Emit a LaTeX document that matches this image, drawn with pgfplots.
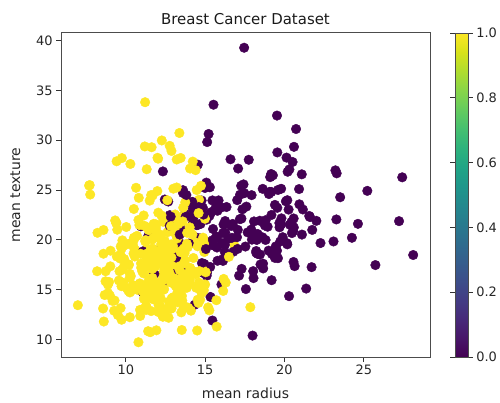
\documentclass[border=0pt]{standalone}
\usepackage{fontspec}
\setmainfont{DejaVu Sans}
\usepackage{pgfplots}
\usepackage{pgfplotstable}
\pgfplotsset{compat=1.18}
\pgfplotsset{/pgf/number format/assume math mode=true}

% mean radius, mean texture, target (0 = malignant, 1 = benign)
\pgfplotstableread{
x y c
17.99 10.38 0
20.57 17.77 0
19.69 21.25 0
11.42 20.38 0
20.29 14.34 0
12.45 15.70 0
18.25 19.98 0
13.71 20.83 0
13.00 21.82 0
12.46 24.04 0
16.02 23.24 0
15.78 17.89 0
19.17 24.80 0
15.85 23.95 0
13.73 22.61 0
14.54 27.54 0
14.68 20.13 0
16.13 20.68 0
19.81 22.15 0
13.54 14.36 1
13.08 15.71 1
9.504 12.44 1
15.34 14.26 0
21.16 23.04 0
16.65 21.38 0
17.14 16.40 0
14.58 21.53 0
18.61 20.25 0
15.30 25.27 0
17.57 15.05 0
18.63 25.11 0
11.84 18.70 0
17.02 23.98 0
19.27 26.47 0
16.13 17.88 0
16.74 21.59 0
14.25 21.72 0
13.03 18.42 1
14.99 25.20 0
13.48 20.82 0
13.44 21.58 0
10.95 21.35 0
19.07 24.81 0
13.28 20.28 0
13.17 21.81 0
18.65 17.60 0
8.196 16.84 1
13.17 18.66 0
12.05 14.63 1
13.49 22.30 1
11.76 21.60 1
13.64 16.34 1
11.94 18.24 1
18.22 18.70 0
15.10 22.02 0
11.52 18.75 1
19.21 18.57 0
14.71 21.59 0
13.05 19.31 1
8.618 11.79 1
10.17 14.88 1
8.598 20.98 1
14.25 22.15 0
9.173 13.86 1
12.68 23.84 0
14.78 23.94 0
9.465 21.01 1
11.31 19.04 1
9.029 17.33 1
12.78 16.49 1
18.94 21.31 0
8.888 14.64 1
17.20 24.52 0
13.80 15.79 0
12.31 16.52 1
16.07 19.65 0
13.53 10.94 1
18.05 16.15 0
20.18 23.97 0
12.86 18.00 1
11.45 20.97 1
13.34 15.86 1
25.22 24.91 0
19.10 26.29 0
12.00 15.65 1
18.46 18.52 0
14.48 21.46 0
19.02 24.59 0
12.36 21.80 1
14.64 15.24 1
14.62 24.02 1
15.37 22.76 0
13.27 14.76 1
13.45 18.30 1
15.06 19.83 0
20.26 23.03 0
12.18 17.84 1
9.787 19.94 1
11.60 12.84 1
14.42 19.77 0
13.61 24.98 0
6.981 13.43 1
12.18 20.52 1
9.876 19.40 1
10.49 19.29 1
13.11 15.56 0
11.64 18.33 1
12.36 18.54 1
22.27 19.67 0
11.34 21.26 1
9.777 16.99 1
12.63 20.76 1
14.26 19.65 1
10.51 20.19 1
8.726 15.83 1
11.93 21.53 1
8.95 15.76 1
14.87 16.67 0
15.78 22.91 0
17.95 20.01 0
11.41 10.82 1
18.66 17.12 0
24.25 20.20 0
14.50 10.89 1
13.37 16.39 1
13.85 17.21 1
13.61 24.69 0
19.00 18.91 0
15.10 16.39 0
19.79 25.12 0
12.19 13.29 1
15.46 19.48 0
16.16 21.54 0
15.71 13.93 1
18.45 21.91 0
12.77 22.47 0
11.71 16.67 1
11.43 15.39 1
14.95 17.57 0
11.28 13.39 1
9.738 11.97 1
16.11 18.05 0
11.43 17.31 1
12.90 15.92 0
10.75 14.97 1
11.90 14.65 1
11.80 16.58 0
14.95 18.77 1
14.44 15.18 1
13.74 17.91 1
13.00 20.78 1
8.219 20.70 1
9.731 15.34 1
11.15 13.08 1
13.15 15.34 1
12.25 17.94 1
17.68 20.74 0
16.84 19.46 1
12.06 12.74 1
10.90 12.96 1
11.75 20.18 1
19.19 15.94 0
19.59 18.15 0
12.34 22.22 1
23.27 22.04 0
14.97 19.76 1
10.80 9.71 1
16.78 18.80 0
17.47 24.68 0
14.97 16.95 1
12.32 12.39 1
13.43 19.63 0
15.46 11.89 0
11.08 14.71 0
10.66 15.15 1
8.671 14.45 1
9.904 18.06 1
16.46 20.11 0
13.01 22.22 1
12.81 13.06 1
27.22 21.87 0
21.09 26.57 0
15.70 20.31 0
11.41 14.92 1
15.28 22.41 0
10.08 15.11 1
18.31 18.58 0
11.71 17.19 1
11.81 17.39 1
12.30 15.90 1
14.22 23.12 0
12.77 21.41 0
9.72 18.22 1
12.34 26.86 0
14.86 23.21 0
12.91 16.33 1
13.77 22.29 0
18.08 21.84 0
19.18 22.49 0
14.45 20.22 0
12.23 19.56 1
17.54 19.32 0
23.29 26.67 0
13.81 23.75 0
12.47 18.60 1
15.12 16.68 0
9.876 17.27 1
17.01 20.26 0
13.11 22.54 1
15.27 12.91 1
20.58 22.14 0
11.84 18.94 0
28.11 18.47 0
17.42 25.56 0
14.19 23.81 0
13.86 16.93 0
11.89 18.35 1
10.20 17.48 1
19.80 21.56 0
19.53 32.47 0
13.65 13.16 1
13.56 13.90 1
10.18 17.53 1
15.75 20.25 0
13.27 17.02 0
14.34 13.47 0
10.44 15.46 1
15.00 15.51 1
12.62 23.97 1
12.83 22.33 0
17.05 19.08 0
11.32 27.08 1
11.22 33.81 1
20.51 27.81 0
9.567 15.91 1
14.03 21.25 1
23.21 26.97 0
20.48 21.46 0
14.22 27.85 1
17.46 39.28 0
13.64 15.60 1
12.42 15.04 1
11.30 18.19 1
13.75 23.77 1
19.40 23.50 0
10.48 19.86 1
13.20 17.43 1
12.89 14.11 1
10.65 25.22 1
11.52 14.93 1
20.94 23.56 0
11.50 18.45 1
19.73 19.82 0
17.30 17.08 0
19.45 19.33 0
13.96 17.05 0
19.55 28.77 0
15.32 17.27 0
15.66 23.20 0
15.53 33.56 0
20.31 27.06 0
17.35 23.06 0
17.29 22.13 0
15.61 19.38 0
17.19 22.07 0
20.73 31.12 0
10.60 18.95 1
13.59 21.84 1
12.87 16.21 1
10.71 20.39 1
14.29 16.82 1
11.29 13.04 1
21.75 20.99 0
9.742 15.67 1
17.93 24.48 0
11.89 17.36 1
11.33 14.16 1
18.81 19.98 0
13.59 17.84 1
13.85 15.18 1
19.16 26.60 0
11.74 14.02 1
19.40 18.18 0
16.24 18.77 0
12.89 15.70 1
12.58 18.40 1
11.94 20.76 1
12.89 13.12 1
11.26 19.96 1
11.37 18.89 1
14.41 19.73 1
14.96 19.10 1
12.95 16.02 1
11.85 17.46 1
12.72 13.78 1
13.77 13.27 1
10.91 12.35 1
11.76 18.14 1
14.26 18.17 1
10.51 23.09 1
19.53 18.90 0
12.46 19.89 1
20.09 23.86 0
10.49 18.61 1
11.46 18.16 1
11.60 24.49 1
13.20 15.82 1
9.00 14.40 1
13.50 12.71 1
13.05 13.84 1
11.70 19.11 1
14.61 15.69 1
12.76 13.37 1
11.54 10.72 1
8.597 18.60 1
12.49 16.85 1
12.18 14.08 1
18.22 18.87 0
9.042 18.90 1
12.43 17.00 1
10.25 16.18 1
20.16 19.66 0
12.86 13.32 1
20.34 21.51 0
12.20 15.21 1
12.67 17.30 1
14.11 12.88 1
12.03 17.93 1
16.27 20.71 0
16.26 21.88 0
16.03 15.51 0
12.98 19.35 1
11.22 19.86 1
11.25 14.78 1
12.30 19.02 1
17.06 21.00 0
12.99 14.23 1
18.77 21.43 0
10.05 17.53 1
23.51 24.27 0
14.42 16.54 1
9.606 16.84 1
11.06 14.96 1
19.68 21.68 0
11.71 15.45 1
10.26 14.71 1
12.06 18.90 1
14.76 14.74 1
11.47 16.03 1
11.95 14.96 1
11.66 17.07 1
15.75 19.22 0
25.73 17.46 0
15.08 25.74 0
11.14 14.07 1
12.56 19.07 1
13.05 18.59 1
13.87 16.21 1
8.878 15.49 1
9.436 18.32 1
12.54 18.07 1
13.30 21.57 1
12.76 18.84 1
16.50 18.29 1
13.40 16.95 1
20.44 21.78 0
20.20 26.83 0
12.21 18.02 1
21.71 17.25 0
22.01 21.90 0
16.35 23.29 0
15.19 13.21 1
21.37 15.10 0
20.64 17.35 0
13.69 16.07 1
16.17 16.07 1
10.57 20.22 1
13.46 28.21 1
13.66 15.15 1
11.08 18.83 0
11.27 12.96 1
11.04 14.93 1
12.05 22.72 1
12.39 17.48 1
13.28 13.72 1
14.60 23.29 0
12.21 14.09 1
13.88 16.16 1
11.27 15.50 1
19.55 23.21 0
10.26 12.22 1
8.734 16.84 1
15.49 19.97 0
21.61 22.28 0
12.10 17.72 1
14.06 17.18 1
13.51 18.89 1
12.80 17.46 1
11.06 14.83 1
11.80 17.26 1
17.91 21.02 0
11.93 10.91 1
12.96 18.29 1
12.94 16.17 1
12.34 14.95 1
10.94 18.59 1
16.14 14.86 1
12.85 21.37 1
17.99 20.66 0
12.27 17.92 1
11.36 17.57 1
11.04 16.83 1
9.397 21.68 1
14.99 22.11 1
15.13 29.81 0
11.89 21.17 1
9.405 21.70 1
15.50 21.08 0
12.70 12.17 1
11.16 21.41 1
11.57 19.04 1
14.69 13.98 1
11.61 16.02 1
13.66 19.13 1
9.742 19.12 1
10.03 21.28 1
10.48 14.98 1
10.80 21.98 1
11.13 16.62 1
12.72 17.67 1
14.90 22.53 0
12.40 17.68 1
20.18 19.54 0
18.82 21.97 0
14.86 16.94 1
13.98 19.62 0
12.87 19.54 1
14.04 15.98 1
13.85 19.60 1
14.02 15.66 1
10.97 17.20 1
17.27 25.42 0
13.78 15.79 1
10.57 18.32 1
18.03 16.85 0
11.99 24.89 1
17.75 28.03 0
14.80 17.66 0
14.53 19.34 1
21.10 20.52 0
11.87 21.54 1
19.59 25.00 0
12.00 28.23 1
14.53 13.98 1
12.62 17.15 1
13.38 30.72 1
11.63 29.29 1
13.21 25.25 1
13.00 25.13 1
9.755 28.20 1
17.08 27.15 0
27.42 26.27 0
14.40 26.99 1
11.60 18.36 1
13.17 18.22 0
13.24 20.13 1
13.14 20.74 1
9.668 18.10 1
17.60 23.33 0
11.62 18.18 1
9.667 18.49 1
12.04 28.14 1
14.92 14.93 1
12.27 29.97 1
10.88 15.62 1
12.83 15.73 1
14.20 20.53 1
13.90 16.62 1
11.49 14.59 1
16.25 19.51 0
12.16 18.03 1
13.90 19.24 1
13.47 14.06 1
13.70 17.64 1
15.73 11.28 1
12.45 16.41 1
14.64 16.85 1
19.44 18.82 0
11.68 16.17 1
16.69 20.20 0
12.25 22.44 1
17.85 13.23 1
18.01 20.56 0
12.46 12.83 1
13.16 20.54 1
14.87 20.21 1
12.65 18.17 1
12.47 17.31 1
18.49 17.52 0
20.59 21.24 0
15.04 16.74 1
13.82 24.49 0
12.54 16.32 1
23.09 19.83 0
9.268 12.87 1
9.676 13.14 1
12.22 20.04 1
11.06 17.12 1
16.30 15.70 1
15.46 23.95 0
11.74 14.69 1
14.81 14.70 1
13.40 20.52 0
14.58 13.66 1
15.05 19.07 0
11.34 18.61 1
18.31 20.58 0
19.89 20.26 0
12.88 18.22 1
12.75 16.70 1
9.295 13.90 1
24.63 21.60 0
11.26 19.83 1
13.71 18.68 1
9.847 15.68 1
8.571 13.10 1
13.46 18.75 1
12.34 12.27 1
13.94 13.17 1
12.07 13.44 1
11.75 17.56 1
11.67 20.02 1
13.68 16.33 1
20.47 20.67 0
10.96 17.62 1
20.55 20.86 0
14.27 22.55 0
11.69 24.44 1
7.729 25.49 1
7.691 25.44 1
11.54 14.44 1
14.47 24.99 1
14.74 25.42 1
13.21 28.06 1
13.87 20.70 1
13.62 23.23 1
10.32 16.35 1
10.26 16.58 1
9.683 19.34 1
10.82 24.21 1
10.86 21.48 1
11.13 22.44 1
12.77 29.43 1
9.333 21.94 1
12.88 28.92 1
10.29 27.61 1
10.16 19.59 1
9.423 27.88 1
14.59 22.68 1
11.51 23.93 1
14.05 27.15 1
11.20 29.37 1
15.22 30.62 0
20.92 25.09 0
21.56 22.39 0
20.13 28.25 0
16.60 28.08 0
20.60 29.33 0
7.76 24.54 1
}\bcdata

\begin{document}
\begin{tikzpicture}
\begin{axis}[
  scale only axis,
  width=369bp, height=324bp,
  xmin=5.92, xmax=29.17, ymin=8.23, ymax=40.76,
  xtick={10,15,20,25}, ytick={10,15,20,25,30,35,40},
  tick align=outside, tick pos=left, major tick length=4.8bp,
  tick style={black!80, line width=0.8bp},
  axis line style={black!70, line width=1bp},
  tick label style={font=\fontsize{13}{15}\selectfont, black!85},
  label style={font=\fontsize{14}{16}\selectfont, black!85},
  title style={font=\fontsize{15}{18}\selectfont, black!90, yshift=-1bp},
  title={Breast Cancer Dataset},
  xlabel={mean radius}, ylabel={mean texture},
  ylabel style={yshift=9bp},
  xlabel style={yshift=-6bp},
  colormap/viridis,
  point meta min=0, point meta max=1,
  colorbar,
  colorbar style={
    width=13bp,
    at={(parent axis.north east)}, anchor=north west, xshift=16.5bp,
    ytick={0,0.2,0.4,0.6,0.8,1},
    yticklabel style={/pgf/number format/fixed, /pgf/number format/fixed zerofill, /pgf/number format/precision=1, font=\fontsize{13}{15}\selectfont, black!85},
    major tick length=4.8bp,
    tick align=outside,
    axis line style={black!70, line width=0.8bp},
  },
]
\addplot[scatter, only marks, mark=*, mark size=4.8bp,
  scatter src=explicit,
  scatter/use mapped color={draw=mapped color, fill=mapped color}]
  table[x=x, y=y, meta=c] {\bcdata};
\end{axis}
\pgfresetboundingbox
\path (-61bp,-46bp) rectangle (439bp,357bp);
\end{tikzpicture}
\end{document}
